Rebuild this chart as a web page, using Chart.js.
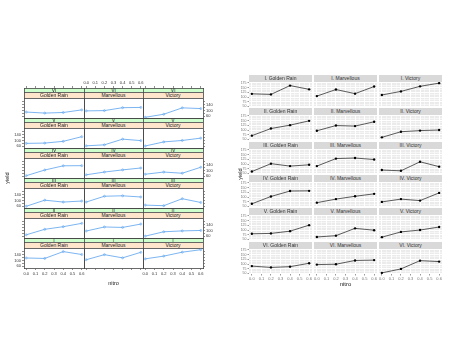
<!DOCTYPE html>
<html lang="en">
<head>
<meta charset="utf-8" />
<title>Oats - yield by nitrogen</title>
<script src="https://cdn.jsdelivr.net/npm/chart.js"></script>
<style>
    body { margin: 0; background: #fff; }
    #stage { position: relative; width: 450px; height: 338px; overflow: hidden; font-family: "Liberation Sans", Arial, sans-serif; }
    #stage canvas, .strip, .axis-title { position: absolute; }
    .strip { box-sizing: border-box; text-align: center; white-space: nowrap; overflow: hidden; }
    .axis-title { white-space: nowrap; transform: translate(-50%, -50%); color: #222; }
</style>
</head>
<body>
<div id="stage"></div>
<script>
    // Oats field trial: yield per block and variety at each nitrogen level
    const nitro = [0.0, 0.2, 0.4, 0.6];
    const blocks = ['I', 'II', 'III', 'IV', 'V', 'VI'];
    const varieties = ['Golden Rain', 'Marvellous', 'Victory'];

    // one row per block (I..VI), one value per nitro level
    const goldenRain = [
        [117, 114, 161, 141],
        [70, 108, 126, 149],
        [60, 102, 89, 96],
        [64, 103, 132, 133],
        [80, 82, 94, 126],
        [89, 82, 86, 104]
    ];
    const marvellous = [
        [105, 140, 118, 156],
        [96, 124, 121, 144],
        [89, 129, 132, 124],
        [70, 89, 104, 117],
        [63, 70, 109, 99],
        [97, 99, 119, 121]
    ];
    const victory = [
        [111, 130, 157, 174],
        [61, 91, 97, 100],
        [68, 64, 112, 86],
        [74, 89, 81, 122],
        [62, 90, 100, 116],
        [53, 74, 118, 113]
    ];

    const nitroTicks = [0, 0.1, 0.2, 0.3, 0.4, 0.5, 0.6];
    const latYTicks = [60, 80, 100, 120, 140, 160];
    const latYLabels = [60, 100, 140];
    const ggYTicks = [50, 75, 100, 125, 150, 175];
    const ggYMinor = [62.5, 87.5, 112.5, 137.5, 162.5];
    const ggXMinor = [0.05, 0.15, 0.25, 0.35, 0.45, 0.55];

    const yieldsFor = [goldenRain, marvellous, victory];

    Chart.defaults.font.family = '"Liberation Sans", Arial, sans-serif';

    const stage = document.getElementById('stage');
    const M = 14; // spare room round each plotting area for ticks and labels

    function addDiv(cls, x, y, w, h, text, css) {
        const d = document.createElement('div');
        d.className = cls;
        Object.assign(d.style, { left: x + 'px', top: y + 'px', width: w + 'px', height: h + 'px' }, css || {});
        d.textContent = text;
        stage.appendChild(d);
        return d;
    }

    function addTitle(text, cx, cy, size, rotate) {
        const d = document.createElement('div');
        d.className = 'axis-title';
        d.style.left = cx + 'px';
        d.style.top = cy + 'px';
        d.style.fontSize = size + 'px';
        if (rotate) d.style.transform = 'translate(-50%, -50%) rotate(-90deg)';
        d.textContent = text;
        stage.appendChild(d);
    }

    function addCanvas(x, y, w, h) {
        const c = document.createElement('canvas');
        c.width = w + 2 * M;
        c.height = h + 2 * M;
        c.style.left = (x - M) + 'px';
        c.style.top = (y - M) + 'px';
        stage.appendChild(c);
        return c;
    }

    const fixTo = size => s => { if (s.isHorizontal()) s.height = size; else s.width = size; };
    const useTicks = list => s => { s.ticks = list.map(v => ({ value: v })); };
    const points = ys => nitro.map((x, i) => ({ x, y: ys[i] }));

    const panelFill = {
        id: 'panelFill',
        beforeDraw(chart, args, opts) {
            if (!opts.color) return;
            const a = chart.chartArea, ctx = chart.ctx;
            ctx.save();
            ctx.fillStyle = opts.color;
            ctx.fillRect(a.left, a.top, a.right - a.left, a.bottom - a.top);
            ctx.restore();
        }
    };

    const baseOptions = {
        responsive: false,
        animation: false,
        events: [],
        devicePixelRatio: 1
    };

    // ---- left: lattice style, blocks VI..I from top, two strips per panel ----
    const LAT = { left: 24, top: 88, colW: 59.67, rowH: 30, strip1: 5, strip2: 6 };
    const latX = [-0.024, 0.624];
    const latYMin = 48.16, latYTop = 178.84;
    const latYMax = latYMin + (latYTop - latYMin) * LAT.rowH / (LAT.rowH - LAT.strip1 - LAT.strip2);

    function latAxis(position, range, ticks, marks, labels, fmt) {
        const horiz = position === 'top' || position === 'bottom';
        return {
            type: 'linear', axis: horiz ? 'x' : 'y', position,
            min: range[0], max: range[1],
            afterBuildTicks: useTicks(ticks),
            afterFit: fixTo(M),
            grid: { drawOnChartArea: false, drawTicks: marks, tickLength: 2, tickColor: '#444', tickWidth: 0.6 },
            border: { display: true, color: '#444', width: 0.8 },
            ticks: { display: labels, padding: 1, autoSkip: false, maxRotation: 0, color: '#333', font: { size: 4 }, callback: fmt }
        };
    }

    const fmtX = v => v.toFixed(1);
    const fmtLatY = v => latYLabels.includes(v) ? String(v) : '';

    blocks.forEach((b, bi) => varieties.forEach((v, vi) => {
        const row = blocks.length - 1 - bi;
        const x0 = Math.round(LAT.left + vi * LAT.colW);
        const x1 = Math.round(LAT.left + (vi + 1) * LAT.colW);
        const y0 = LAT.top + row * LAT.rowH;
        const stripCss = { color: '#222', fontSize: '5px', borderBottom: '1px solid #666' };
        addDiv('strip', x0, y0, x1 - x0, LAT.strip1, b,
            Object.assign({ background: '#ccffcc', lineHeight: (LAT.strip1 - 1) + 'px' }, stripCss));
        addDiv('strip', x0, y0 + LAT.strip1, x1 - x0, LAT.strip2, v,
            Object.assign({ background: '#ffe5cc', lineHeight: (LAT.strip2 - 1) + 'px' }, stripCss));

        const firstRow = row === 0, lastRow = bi === 0;
        new Chart(addCanvas(x0, y0, x1 - x0, LAT.rowH), {
            type: 'line',
            data: {
                datasets: [{
                    data: points(yieldsFor[vi][bi]),
                    borderColor: '#5aa2ee',
                    borderWidth: 0.8,
                    pointRadius: 1,
                    pointBorderWidth: 0.6,
                    pointBorderColor: '#5aa2ee',
                    pointBackgroundColor: 'rgba(0,0,0,0)',
                    tension: 0
                }]
            },
            options: Object.assign({}, baseOptions, {
                scales: {
                    x: latAxis('bottom', latX, nitroTicks, lastRow, lastRow && vi !== 1, fmtX),
                    x2: latAxis('top', latX, nitroTicks, firstRow, firstRow && vi === 1, fmtX),
                    y: latAxis('left', [latYMin, latYMax], latYTicks, vi === 0, vi === 0 && bi % 2 === 0, fmtLatY),
                    y2: latAxis('right', [latYMin, latYMax], latYTicks, vi === 2, vi === 2 && bi % 2 === 1, fmtLatY)
                },
                plugins: { legend: { display: false }, tooltip: { enabled: false } }
            })
        });
    }));

    addTitle('nitro', 113.5, 283, 5.5, false);
    addTitle('yield', 7, 178, 5.5, true);

    // ---- right: ggplot style, blocks I..VI from top, grey panels ----
    const GG = { lefts: [249, 314, 379], colW: 63, top: 75, rowStep: 33.33, strip: 7, panel: 25 };
    const ggX = [-0.03, 0.63];
    const ggY = [46.95, 180.05];

    function ggAxis(position, range, ticks, major, labels, fmt) {
        const horiz = position === 'top' || position === 'bottom';
        return {
            type: 'linear', axis: horiz ? 'x' : 'y', position,
            min: range[0], max: range[1],
            afterBuildTicks: useTicks(ticks),
            afterFit: fixTo(major ? M : 0),
            grid: { color: '#ffffff', lineWidth: major ? 1 : 0.5, drawTicks: labels, tickLength: 1.5, tickColor: '#555', tickWidth: 0.6 },
            border: { display: false },
            ticks: { display: labels, padding: 1, autoSkip: false, maxRotation: 0, color: '#777', font: { size: horiz ? 4 : 3.5 }, callback: fmt }
        };
    }

    blocks.forEach((b, bi) => varieties.forEach((v, vi) => {
        const x0 = GG.lefts[vi];
        const y0 = Math.round(GG.top + bi * GG.rowStep);
        addDiv('strip', x0, y0, GG.colW, GG.strip, b + '. ' + v,
            { background: '#d9d9d9', color: '#333', fontSize: '5px', lineHeight: GG.strip + 'px' });

        const bottomRow = bi === blocks.length - 1, leftCol = vi === 0;
        new Chart(addCanvas(x0, y0 + GG.strip, GG.colW, GG.panel), {
            type: 'line',
            data: {
                datasets: [{
                    data: points(yieldsFor[vi][bi]),
                    borderColor: '#333',
                    borderWidth: 0.8,
                    pointRadius: 1.2,
                    pointBorderWidth: 0,
                    pointBackgroundColor: '#000',
                    tension: 0
                }]
            },
            options: Object.assign({}, baseOptions, {
                layout: { padding: { top: M, right: M } },
                scales: {
                    x: ggAxis('bottom', ggX, nitroTicks, true, bottomRow, fmtX),
                    xMinor: ggAxis('bottom', ggX, ggXMinor, false, false),
                    y: ggAxis('left', ggY, ggYTicks, true, leftCol, v => String(v)),
                    yMinor: ggAxis('left', ggY, ggYMinor, false, false)
                },
                plugins: { legend: { display: false }, tooltip: { enabled: false }, panelFill: { color: '#ebebeb' } }
            }),
            plugins: [panelFill]
        });
    }));

    addTitle('nitro', 345.5, 284, 6, false);
    addTitle('yield', 239.5, 174, 5.5, true);
</script>
</body>
</html>
